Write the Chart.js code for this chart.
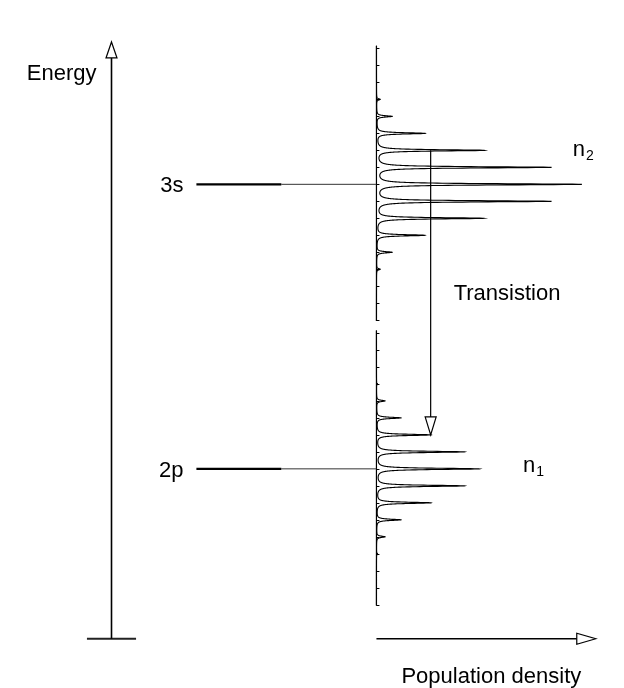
<!DOCTYPE html>
<html>
<head>
<meta charset="utf-8">
<script src="https://cdn.jsdelivr.net/npm/chart.js@4/dist/chart.umd.min.js"></script>
<style>
  html, body { margin: 0; padding: 0; background: #fff; }
  #c { display: block; }
</style>
</head>
<body>
<canvas id="c" width="624" height="688"></canvas>
<script>
// ---- Data -------------------------------------------------------------
// Energy levels (energy in units of the sublevel spacing)
const levelNames = ['3s', '2p'];
const levelEnergies = [16.75, 0];
const populationNames = ['n', 'n'];
const populationSubscripts = ['2', '1'];

// Sublevel offsets around each level and their population densities
const sublevelOffsets = [-5, -4, -3, -2, -1, 0, 1, 2, 3, 4, 5];
const upperDensity = [0.18, 0.76, 2.36, 5.26, 8.52, 10.0, 8.52, 5.26, 2.36, 0.76, 0.18];
const lowerDensity = [0.05, 0.42, 1.19, 2.65, 4.28, 5.01, 4.28, 2.65, 1.19, 0.42, 0.05];

// Tick marks along each population axis (sublevel offsets)
const spectrumTicks = [-8, -7, -6, -5, -4, -3, -2, -1, 0, 1, 2, 3, 4, 5, 6, 7, 8];

// Transition between sublevel +2 of 3s and sublevel +2 of 2p
const transitionSublevel = 2;

// ---- Layout (diagram units) ------------------------------------------
const energyAxisX = -12.95;
const axisBaseE = -10;
const energyAxisTipE = 25.13;
const crossbarHalf = 1.2;
const populationAxisTip = 10.72;
const levelLineStart = -8.8;
const levelLineBreak = -4.65;
const spectrumLow = -8.05, spectrumHigh = 8.15;
const lineWidthGamma = 0.045;

const FONT = '"Liberation Sans", Arial, Helvetica, sans-serif';

function seg(x1, y1, x2, y2, color, width) {
  return {
    data: [{x: x1, y: y1}, {x: x2, y: y2}],
    showLine: true, pointRadius: 0, borderColor: color, borderWidth: width,
    fill: false, tension: 0
  };
}

const datasets = [];
// Energy axis and its base bar
datasets.push(seg(energyAxisX, axisBaseE, energyAxisX, energyAxisTipE - 0.9, '#000', 1.6));
datasets.push(seg(energyAxisX - crossbarHalf, axisBaseE, energyAxisX + crossbarHalf, axisBaseE, '#222', 2));
// Population density axis
datasets.push(seg(0, axisBaseE, populationAxisTip - 0.9, axisBaseE, '#000', 1.3));
// Level lines
levelEnergies.forEach(E => {
  datasets.push(seg(levelLineStart, E, levelLineBreak, E, '#000', 2.2));
  datasets.push(seg(levelLineBreak, E, 0, E, '#333', 1));
});
// Spectrum axes
levelEnergies.forEach(E => {
  datasets.push(seg(0, E + spectrumLow, 0, E + spectrumHigh, '#000', 1.2));
});
// Transition line
const ti = sublevelOffsets.indexOf(transitionSublevel);
const transX = lowerDensity[ti];
const transFromE = levelEnergies[0] + transitionSublevel;
const transToE = levelEnergies[1] + transitionSublevel;
datasets.push(seg(transX, transFromE, transX, transToE + 1.0, '#000', 1.2));

const diagramPlugin = {
  id: 'diagram',
  afterDatasetsDraw(chart) {
    const ctx = chart.ctx;
    const xs = chart.scales.x, ys = chart.scales.y;
    const px = v => xs.getPixelForValue(v);
    const py = v => ys.getPixelForValue(v);
    ctx.save();

    // Population profiles (Lorentzian lines at each sublevel)
    const profiles = [upperDensity, lowerDensity];
    levelEnergies.forEach((E0, li) => {
      const dens = profiles[li];
      const g2 = lineWidthGamma * lineWidthGamma;
      const pts = [];
      const step = 0.004;
      for (let e = spectrumLow; e <= spectrumHigh + 1e-9; e += step) pts.push(e);
      sublevelOffsets.forEach(o => pts.push(o));
      pts.sort((a, b) => a - b);
      ctx.beginPath();
      pts.forEach((e, i) => {
        let v = 0;
        sublevelOffsets.forEach((o, k) => {
          const d = e - o;
          v += dens[k] * g2 / (d * d + g2);
        });
        const X = px(v), Y = py(E0 + e);
        if (i === 0) ctx.moveTo(X, Y); else ctx.lineTo(X, Y);
      });
      ctx.strokeStyle = '#000';
      ctx.lineWidth = 1.1;
      ctx.stroke();

      // Ticks along the axis
      ctx.beginPath();
      spectrumTicks.forEach(t => {
        const Y = Math.round(py(E0 + t)) + 0.5;
        ctx.moveTo(px(0), Y);
        ctx.lineTo(px(0) + 3, Y);
      });
      ctx.lineWidth = 1;
      ctx.stroke();
    });

    // Open arrow heads
    function arrowHead(tipX, tipY, dirX, dirY, len, half) {
      const bx = tipX - dirX * len, by = tipY - dirY * len;
      const nx = -dirY, ny = dirX;
      ctx.beginPath();
      ctx.moveTo(tipX, tipY);
      ctx.lineTo(bx + nx * half, by + ny * half);
      ctx.lineTo(bx - nx * half, by - ny * half);
      ctx.closePath();
      ctx.fillStyle = '#fff';
      ctx.fill();
      ctx.strokeStyle = '#000';
      ctx.lineWidth = 1.2;
      ctx.stroke();
    }
    arrowHead(px(energyAxisX), py(energyAxisTipE), 0, -1, 16, 5.5);
    arrowHead(px(populationAxisTip), py(axisBaseE), 1, 0, 19, 5.5);
    arrowHead(px(transX), py(transToE), 0, 1, 18, 5.5);

    // Text
    ctx.fillStyle = '#000';
    ctx.textBaseline = 'alphabetic';
    ctx.font = '22px ' + FONT;
    ctx.textAlign = 'right';
    ctx.fillText('Energy', px(energyAxisX) - 15, py(energyAxisTipE) + 38);
    levelNames.forEach((n, i) => {
      ctx.fillText(n, px(levelLineStart) - 13, py(levelEnergies[i]) + 8);
    });
    ctx.textAlign = 'left';
    ctx.fillText('Transistion', px(transX) + 23, py((transFromE + transToE) / 2) + 7);

    const popAnchors = [[upperDensity[5] - 0.4, levelEnergies[0] + 2], [lowerDensity[5] + 2.15, levelEnergies[1]]];
    const popDY = [6, 3];
    populationNames.forEach((n, i) => {
      const x = px(popAnchors[i][0]), y = py(popAnchors[i][1]) + popDY[i];
      ctx.font = '22px ' + FONT;
      ctx.fillText(n, x, y);
      const w = ctx.measureText(n).width;
      ctx.font = '14px ' + FONT;
      ctx.fillText(populationSubscripts[i], x + w + 1, y + 4);
    });

    ctx.font = '22px ' + FONT;
    ctx.textAlign = 'left';
    ctx.fillText('Population density', px(0) + 25, py(axisBaseE) + 44);
    ctx.restore();
  }
};

new Chart(document.getElementById('c'), {
  type: 'scatter',
  data: { datasets },
  options: {
    responsive: false,
    animation: false,
    devicePixelRatio: 1,
    layout: { padding: 0 },
    plugins: { legend: { display: false }, tooltip: { enabled: false } },
    scales: {
      x: { type: 'linear', min: -18.4, max: 12.1, display: false },
      y: { type: 'linear', min: -12.9, max: 27.6, display: false }
    },
    elements: { line: { borderCapStyle: 'butt' } }
  },
  plugins: [diagramPlugin]
});
</script>
</body>
</html>
